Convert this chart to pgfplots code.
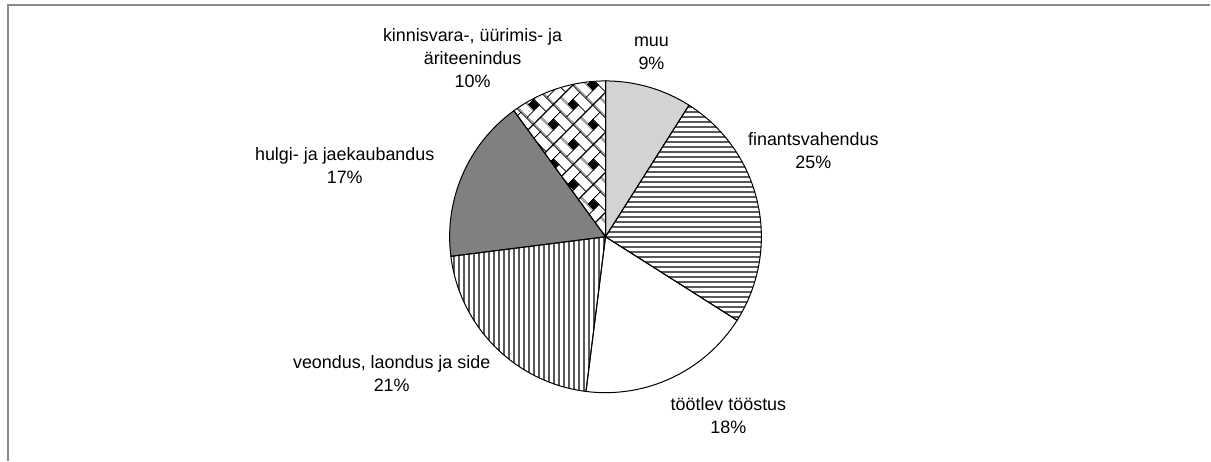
\documentclass[border=0pt]{standalone}
\usepackage{fontspec}
\setmainfont{Liberation Sans}
\usepackage{pgfplots}
\pgfplotsset{compat=1.18}
\usetikzlibrary{patterns,patterns.meta}

\definecolor{lightgr}{HTML}{D3D3D5}
\definecolor{darkgr}{HTML}{808082}
\definecolor{framegr}{HTML}{8A8A8A}

% hatch patterns
\pgfdeclarepatternformonly{hl}{\pgfqpoint{0bp}{-1bp}}{\pgfqpoint{5bp}{4bp}}{\pgfqpoint{5bp}{5bp}}%
{\pgfsetlinewidth{1.3bp}\pgfpathmoveto{\pgfqpoint{0bp}{0bp}}\pgfpathlineto{\pgfqpoint{5bp}{0bp}}\pgfusepath{stroke}}
\pgfdeclarepatternformonly{vl}{\pgfqpoint{-1bp}{0bp}}{\pgfqpoint{4bp}{5bp}}{\pgfqpoint{5bp}{5bp}}%
{\pgfsetlinewidth{1.3bp}\pgfpathmoveto{\pgfqpoint{0bp}{0bp}}\pgfpathlineto{\pgfqpoint{0bp}{5bp}}\pgfusepath{stroke}}
% weave
\tikzdeclarepattern{
  name=weave,
  type=uncolored,
  bottom left={(0bp,0bp)},
  top right={(28bp,28bp)},
  tile size={(28bp,28bp)},
  tile transformation={rotate=45},
  code={
    \draw[line width=0.9bp] (0bp,0bp) rectangle (18bp,10bp)
      (18bp,0bp) rectangle (28bp,18bp)
      (10bp,18bp) rectangle (28bp,28bp)
      (0bp,10bp) rectangle (10bp,28bp);
    \fill (10bp,10bp) rectangle (18bp,18bp);
  }
}

\newcommand\slice[2]{(axis cs:606,224) -- ++(#1:156bp) arc[start angle=#1,end angle=#2,radius=156bp] -- cycle}

\begin{document}
\begin{tikzpicture}
% shares in percent, clockwise from 12 o'clock
\pgfmathsetmacro{\aA}{90}
\pgfmathsetmacro{\aB}{\aA-9*3.6}  % muu
\pgfmathsetmacro{\aC}{\aB-25*3.6} % finantsvahendus
\pgfmathsetmacro{\aD}{\aC-18*3.6} % töötlev tööstus
\pgfmathsetmacro{\aE}{\aD-21*3.6} % veondus
\pgfmathsetmacro{\aF}{\aE-17*3.6} % hulgi
\pgfmathsetmacro{\aG}{\aF-10*3.6} % kinnisvara
\begin{axis}[
    width=1211bp, height=461bp, scale only axis,
    xmin=0, xmax=1211, ymin=0, ymax=461,
    hide axis, clip=false,
]
\path (axis cs:0,0) rectangle (axis cs:1211,461);
\draw[framegr, line width=2bp] (axis cs:8,0) -- (axis cs:8,456) -- (axis cs:1211,456);

\fill[lightgr] \slice{\aA}{\aB};
\fill[white] \slice{\aB}{\aC};
\fill[pattern=hl] \slice{\aB}{\aC};
\fill[white] \slice{\aC}{\aD};
\fill[white] \slice{\aD}{\aE};
\fill[pattern=vl] \slice{\aD}{\aE};
\fill[darkgr] \slice{\aE}{\aF};
\fill[white] \slice{\aF}{\aG};
\fill[pattern=weave] \slice{\aF}{\aG};

\draw[line width=1bp] \slice{\aA}{\aB};
\draw[line width=1bp] \slice{\aB}{\aC};
\draw[line width=1bp] \slice{\aC}{\aD};
\draw[line width=1bp] \slice{\aD}{\aE};
\draw[line width=1bp] \slice{\aE}{\aF};
\draw[line width=1bp] \slice{\aF}{\aG};

\tikzset{lab/.style={align=center, font=\fontsize{18}{23}\selectfont}}
\node[lab] at (axis cs:652,408) {muu\\9\%};
\node[lab] at (axis cs:814,310) {finantsvahendus\\25\%};
\node[lab] at (axis cs:729,45) {töötlev tööstus\\18\%};
\node[lab] at (axis cs:392,87) {veondus, laondus ja side\\21\%};
\node[lab] at (axis cs:345,295) {hulgi- ja jaekaubandus\\17\%};
\node[lab] at (axis cs:473,403) {kinnisvara-, üürimis- ja\\äriteenindus\\10\%};
\end{axis}
\end{tikzpicture}
\end{document}
